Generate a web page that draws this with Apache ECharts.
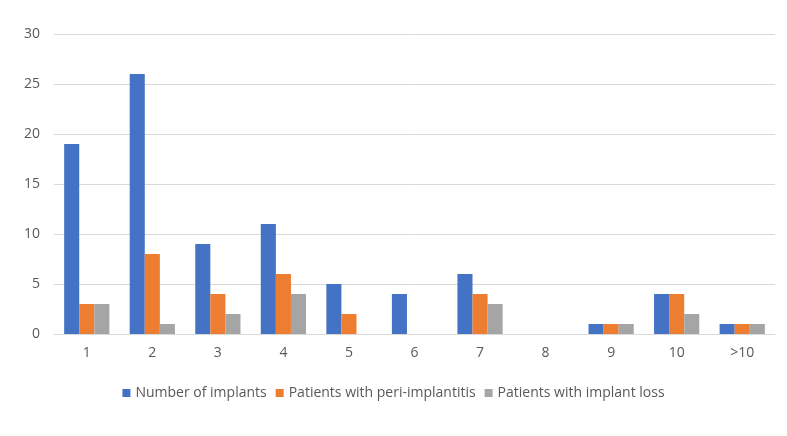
<!DOCTYPE html>
<html>
<head>
<meta charset="utf-8">
<script src="https://cdn.jsdelivr.net/npm/echarts@6/dist/echarts.min.js"></script>
<style>
  html, body { margin: 0; padding: 0; background: #fff; }
  #main { width: 787px; height: 436px; }
</style>
</head>
<body>
<div id="main"></div>
<script>
const categories = ['1', '2', '3', '4', '5', '6', '7', '8', '9', '10', '>10'];
const implants = [19, 26, 9, 11, 5, 4, 6, 0, 1, 4, 1];
const periImplantitis = [3, 8, 4, 6, 2, 0, 4, 0, 1, 4, 1];
const implantLoss = [3, 1, 2, 4, 0, 0, 3, 0, 1, 2, 1];
const yTicks = { min: 0, max: 30, interval: 5 };

const chart = echarts.init(document.getElementById('main'));
const font = '"Open Sans", Lato, sans-serif';

chart.setOption({
  animation: false,
  textStyle: { fontFamily: font },
  grid: { left: 54, right: 12, top: 34, bottom: 102 },
  legend: {
    bottom: 31,
    left: 'center',
    itemWidth: 8,
    itemHeight: 8,
    itemGap: 9,
    icon: 'rect',
    textStyle: { color: '#595959', fontSize: 14, fontFamily: font }
  },
  xAxis: {
    type: 'category',
    data: categories,
    axisLine: { lineStyle: { color: '#d9d9d9', width: 1 } },
    axisTick: { show: false },
    axisLabel: { color: '#595959', fontSize: 14, margin: 12 }
  },
  yAxis: {
    type: 'value',
    min: yTicks.min,
    max: yTicks.max,
    interval: yTicks.interval,
    axisLine: { show: false },
    axisTick: { show: false },
    splitLine: { lineStyle: { color: '#d9d9d9' } },
    axisLabel: { color: '#595959', fontSize: 14, margin: 14 }
  },
  series: [
    { name: 'Number of implants', type: 'bar', data: implants, itemStyle: { color: '#4472C4' }, barGap: '0%', barCategoryGap: '31%' },
    { name: 'Patients with peri-implantitis', type: 'bar', data: periImplantitis, itemStyle: { color: '#ED7D31' } },
    { name: 'Patients with implant loss', type: 'bar', data: implantLoss, itemStyle: { color: '#A5A5A5' } }
  ]
});
</script>
</body>
</html>
